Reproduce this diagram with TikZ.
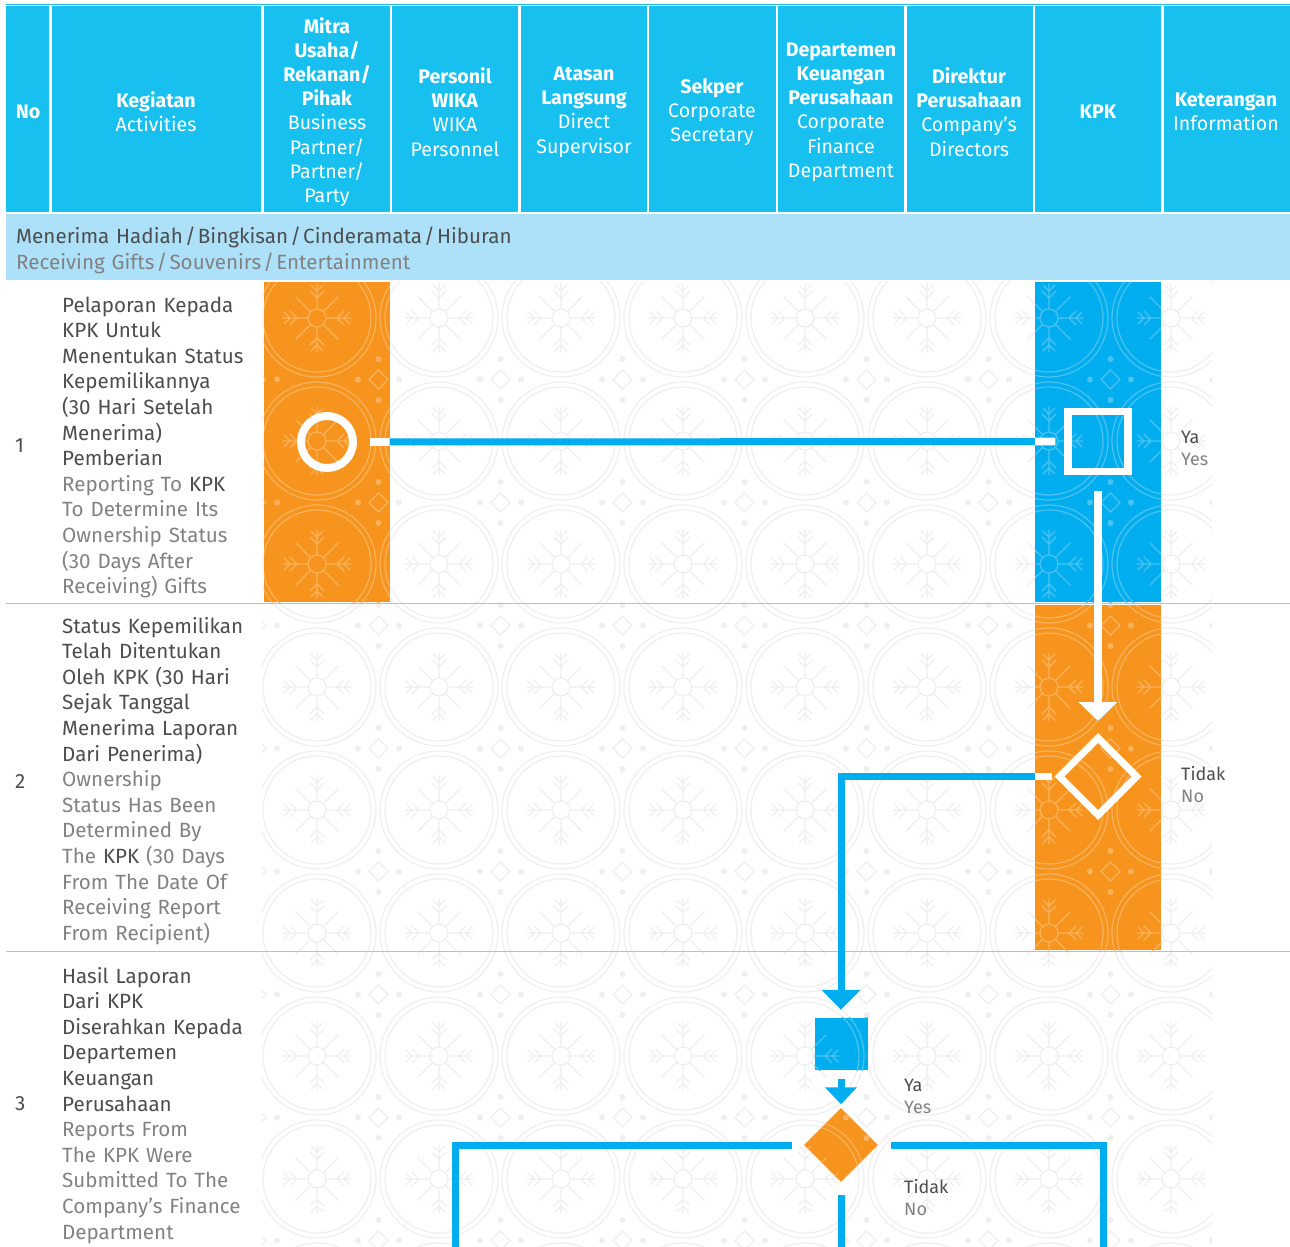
\documentclass[tikz,border=0pt]{standalone}
\usepackage{fontspec}
\setmainfont{Fira Sans}
\usetikzlibrary{arrows.meta,shapes.geometric}
\definecolor{hdr}{RGB}{24,192,240}
\definecolor{sect}{RGB}{173,225,249}
\definecolor{org}{RGB}{247,148,30}
\definecolor{kblue}{RGB}{0,174,239}
\definecolor{patw}{RGB}{239,239,239}
\definecolor{pato}{RGB}{249,178,92}
\definecolor{patb}{RGB}{74,194,242}
\definecolor{tdark}{RGB}{77,77,77}
\definecolor{tgray}{RGB}{130,130,130}
\definecolor{sepg}{RGB}{190,190,190}
\tikzset{
  hd/.style={align=center, text=white, inner sep=0pt, font=\fontsize{19.6}{24.2}\selectfont},
  body/.style={anchor=base west, align=left, text width=240pt, inner sep=0pt, font=\fontsize{20.6}{25.6}\selectfont, text=tdark},
  numtxt/.style={anchor=base west, inner sep=0pt, font=\fontsize{20.6}{25.6}\selectfont, text=tdark},
  lab/.style={anchor=base west, align=left, text width=80pt, inner sep=0pt, font=\fontsize{18}{22}\selectfont, text=tdark},
  secttxt/.style={anchor=base west, align=left, text width=800pt, inner sep=0pt, font=\fontsize{20.6}{26.5}\selectfont, text=tdark},
}
\newcommand\slsep{\kern2.2pt/\kern2.2pt}
\newcommand\motifgrid[5]{%
  \foreach \i in {#2,...,#3}{\foreach \j in {#4,...,#5}{%
    \begin{scope}[shift={(805+122*\i,810+123*\j)},draw=#1,line width=1.2pt,line cap=round]
      \draw (0,0) circle[radius=54] (0,0) circle[radius=59] (0,0) circle[radius=9];
      \foreach \a in {0,90,180,270}{\draw[rotate=\a] (9,0) -- (34,0) (20,0) -- (27,7) (20,0) -- (27,-7) (27,0) -- (33,6) (27,0) -- (33,-6);}
      \foreach \a in {45,135,225,315}{\draw[rotate=\a] (9,0) -- (30,0);}
      \draw (61.5,52) -- (71,61.5) -- (61.5,71) -- (52,61.5) -- cycle;
      \fill[#1] (61.5,41) circle[radius=3] (61.5,82) circle[radius=3] (41,61.5) circle[radius=3] (82,61.5) circle[radius=3];
    \end{scope}}}}
\newcommand\conns[2]{%
  \begin{scope}[draw=#1, line width=#2, line join=miter]
    \draw[shorten <=13pt, shorten >=9pt] (start) -- (kpk1);
    \draw[shorten <=16pt, shorten >=12pt, -{Triangle[width=38pt,length=19pt]}] (kpk1) -- (kpk2);
    \draw[shorten <=3pt, shorten >=8pt, -{Triangle[width=38pt,length=20pt]}] (kpk2.west) -| (fin.north);
    \draw[shorten <=9pt, shorten >=3.5pt, -{Triangle[width=31pt,length=17pt]}] (fin.south) -- (dec.north);
    \draw[shorten <=12pt] (dec.west) -| (endL);
    \draw[shorten <=13pt] (dec.east) -| (endR);
    \draw[shorten <=13pt] (dec.south) -- (endB);
  \end{scope}}
\begin{document}
\begin{tikzpicture}[x=1pt,y=-1pt]
\useasboundingbox (0,0) rectangle (1290,1247);
\clip (0,0) rectangle (1290,1247);
\fill[white] (0,0) rectangle (1290,1247);

% background pattern
\begin{scope}
  \clip (262,281) rectangle (1212,1247);
  \motifgrid{patw}{-6}{4}{-6}{4}
\end{scope}

% header
\fill[hdr] (6,4) rectangle (1290,212);
\draw[white,line width=1pt] (6,5.8) -- (1290,5.8);
\foreach \x in {50.5,262.5,391,519.5,648,777,905.5,1034,1162.5}
  \draw[white,line width=2.2pt] (\x,5) -- (\x,213);
\fill[sect] (6,214) rectangle (1290,279.5);

% row separators
\draw[sepg,line width=1.5pt] (6,603.5) -- (1290,603.5);
\draw[sepg,line width=1.5pt] (6,951.5) -- (1290,951.5);

% coloured swimlane blocks
\fill[org] (264,282) rectangle (389.5,602);
\begin{scope}\clip (264,282) rectangle (389.5,602); \motifgrid{pato}{-6}{-2}{-6}{-1}\end{scope}
\fill[kblue] (1035,282) rectangle (1161,602);
\begin{scope}\clip (1035,282) rectangle (1161,602); \motifgrid{patb}{0}{3}{-6}{-1}\end{scope}
\fill[org] (1035,605) rectangle (1161,950);
\begin{scope}\clip (1035,605) rectangle (1161,950); \motifgrid{pato}{0}{3}{-4}{1}\end{scope}

% flow nodes
\node[circle, draw=white, line width=8pt, minimum size=52pt, inner sep=0pt] (start) at (327,442) {};
\node[rectangle, draw=white, line width=7.5pt, minimum size=60pt, inner sep=0pt] (kpk1) at (1098,441.5) {};
\node[diamond, aspect=1, draw=white, line width=7pt, minimum width=80pt, minimum height=80pt, inner sep=0pt] (kpk2) at (1098,776.5) {};
\node[rectangle, fill=kblue, minimum width=53pt, minimum height=52pt, inner sep=0pt] (fin) at (841,1044) {};
\begin{scope}\clip (fin.south west) rectangle (fin.north east); \motifgrid{patb}{-1}{1}{0}{2}\end{scope}
\node[diamond, aspect=1, fill=org, minimum width=74pt, minimum height=74pt, inner sep=0pt] (dec) at (841,1145) {};
\begin{scope}\clip (dec.north) -- (dec.east) -- (dec.south) -- (dec.west) -- cycle; \motifgrid{pato}{-1}{1}{1}{3}\end{scope}
\coordinate (endL) at (455,1262);
\coordinate (endR) at (1103,1262);
\coordinate (endB) at (841,1262);

% connectors: blue on white, white on coloured blocks
\conns{kblue}{7pt}
\begin{scope}
  \clip (264,282) rectangle (389.5,602) (1035,282) rectangle (1161,950);
  \conns{white}{7.6pt}
\end{scope}

% header texts
\node[hd] (hNo) at (28,112) {\textbf{No}};
\node[hd] (hKeg) at (156,112) {\textbf{Kegiatan}\\Activities};
\node[hd] (hMit) at (327,112) {\textbf{Mitra}\\\textbf{Usaha/}\\\textbf{Rekanan/}\\\textbf{Pihak}\\Business\\Partner/\\Partner/\\Party};
\node[hd] (hPer) at (455,112) {\textbf{Personil}\\\textbf{WIKA}\\WIKA\\Personnel};
\node[hd] (hAta) at (584,112) {\textbf{Atasan}\\\textbf{Langsung}\\Direct\\Supervisor};
\node[hd] (hSek) at (712,112) {\textbf{Sekper}\\Corporate\\Secretary};
\node[hd] (hDep) at (841,112) {\textbf{Departemen}\\\textbf{Keuangan}\\\textbf{Perusahaan}\\Corporate\\Finance\\Department};
\node[hd] (hDir) at (969,112) {\textbf{Direktur}\\\textbf{Perusahaan}\\Company’s\\Directors};
\node[hd] (hKPK) at (1098,112) {\textbf{KPK}};
\node[hd] (hKet) at (1226,112) {\textbf{Keterangan}\\Information};

% section title
\node[secttxt] (sec) at (16,243) {Menerima Hadiah\slsep Bingkisan\slsep Cinderamata\slsep Hiburan\\\color{tgray}Receiving Gifts\slsep Souvenirs\slsep Entertainment};

% row texts
\node[numtxt] (n1) at (15,452) {1};
\node[body] (t1) at (62,312) {Pelaporan Kepada\\KPK Untuk\\Menentukan Status\\Kepemilikannya\\(30 Hari Setelah\\Menerima)\\Pemberian\\\color{tgray}Reporting To {\color{tdark}KPK}\\To Determine Its\\Ownership Status\\(30 Days After\\Receiving) Gifts};
\node[numtxt] (n2) at (15,788) {2};
\node[body] (t2) at (62,633) {Status Kepemilikan\\Telah Ditentukan\\Oleh KPK (30 Hari\\Sejak Tanggal\\Menerima Laporan\\Dari Penerima)\\\color{tgray}Ownership\\Status Has Been\\Determined By\\The {\color{tdark}KPK} (30 Days\\From The Date Of\\Receiving Report\\From Recipient)};
\node[numtxt] (n3) at (15,1110) {3};
\node[body] (t3) at (62,983) {Hasil Laporan\\Dari KPK\\Diserahkan Kepada\\Departemen\\Keuangan\\Perusahaan\\\color{tgray}Reports From\\The KPK Were\\Submitted To The\\Company’s Finance\\Department};

% decision labels
\node[lab] (ya1) at (1181,443) {Ya\\\color{tgray}Yes};
\node[lab] (no1) at (1181,780) {Tidak\\\color{tgray}No};
\node[lab] (ya2) at (904,1091) {Ya\\\color{tgray}Yes};
\node[lab] (no2) at (904,1193) {Tidak\\\color{tgray}No};
\end{tikzpicture}
\end{document}
